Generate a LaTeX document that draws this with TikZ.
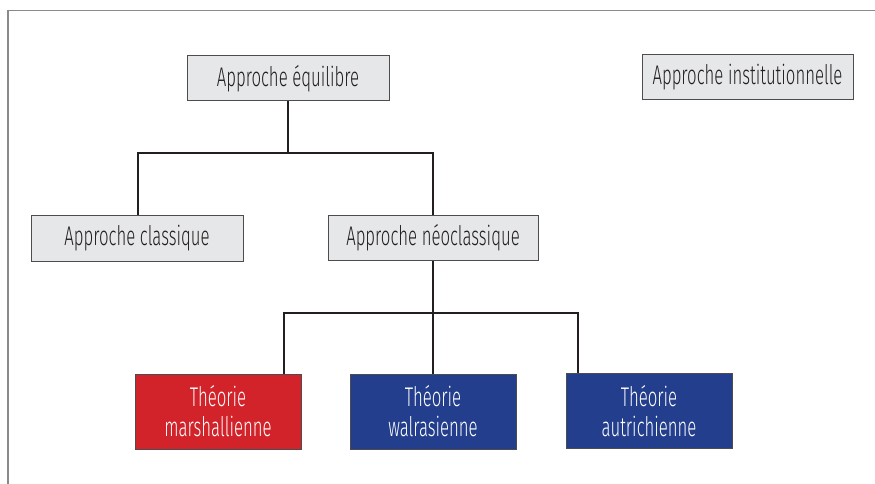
\documentclass[tikz,border=0pt]{standalone}
\usepackage{fontspec}
\setmainfont{Fira Sans Light}[FakeStretch=0.62]
\usetikzlibrary{calc}
\definecolor{boxgray}{HTML}{E6E7E8}
\definecolor{boxborder}{HTML}{4D4D4F}
\definecolor{ink}{HTML}{231F20}
\definecolor{redbox}{HTML}{D2232A}
\definecolor{bluebox}{HTML}{233E8C}
\definecolor{framegray}{HTML}{8A8A8C}
\tikzset{
  graybox/.style={draw=boxborder, line width=1pt, fill=boxgray, text=ink, minimum height=45pt, inner sep=0pt, font=\fontsize{27}{30}\selectfont},
  colbox/.style={draw=boxborder, line width=1pt, text=white, minimum width=166pt, minimum height=75pt, inner sep=0pt, align=center, font=\fontsize{27}{30}\selectfont},
  link/.style={draw=ink, line width=2pt},
}
\begin{document}
\begin{tikzpicture}[x=1pt, y=-1pt]
\useasboundingbox (0,0) rectangle (875,484);
\draw[framegray, line width=1.5pt] (8,484) -- (8,10.5) -- (875,10.5);
\node[graybox, minimum width=202pt] (eq) at (288,78.5) {Approche équilibre};
\node[graybox, minimum width=211pt] (inst) at (747.5,77.5) {Approche institutionnelle};
\node[graybox, minimum width=212pt, minimum height=46pt] (cla) at (137,238.5) {Approche classique};
\node[graybox, minimum width=210pt] (neo) at (433,238) {Approche néoclassique};
\node[colbox, fill=redbox] (mar) at (218,411.5) {Théorie\\marshallienne};
\node[colbox, fill=bluebox] (wal) at (433,411.5) {Théorie\\walrasienne};
\node[colbox, fill=bluebox] (aut) at (649,411) {Théorie\\autrichienne};
\coordinate (j1) at (288,153);
\coordinate (j2) at (433,313);
\draw[link] (eq.south) -- (j1);
\draw[link] ([xshift=1pt]cla.north) |- (j1) -| (neo.north);
\draw[link] (neo.south) -- (wal.north);
\draw[link] ([xshift=-18pt]mar.north east) |- (j2) -| ([xshift=12pt]aut.north west);
\end{tikzpicture}
\end{document}
